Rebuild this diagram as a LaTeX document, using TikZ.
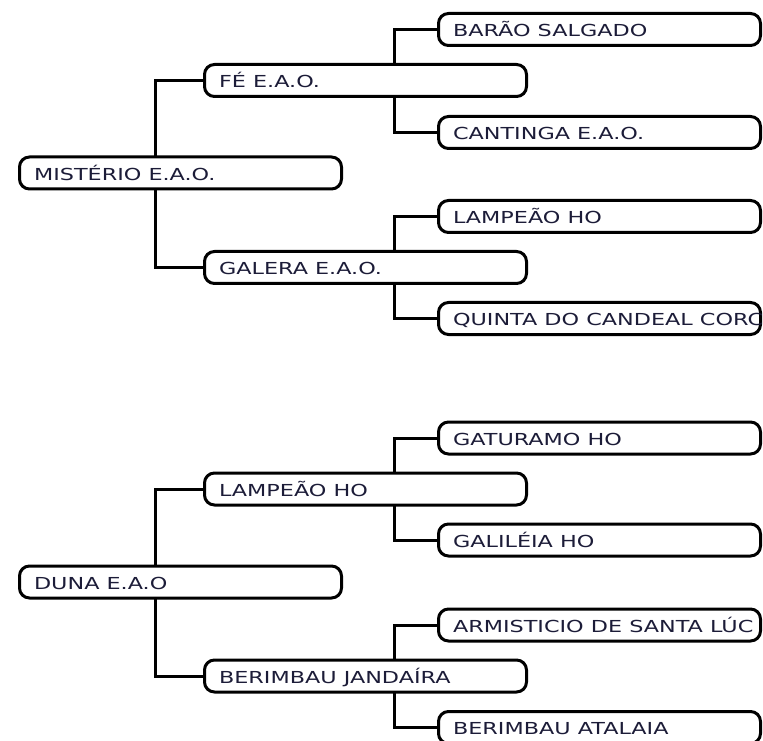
\documentclass[tikz,border=0pt]{standalone}
\usepackage{fontspec}
\newfontfamily\boxfont[FakeStretch=1.35]{DejaVu Sans}
\usetikzlibrary{backgrounds}
\definecolor{boxtext}{RGB}{28,28,56}

\tikzset{
	tbox/.style={draw,line width=2.25pt,fill=white,rounded corners=7.5pt,inner sep=0,outer sep=0,minimum width=241.5pt,minimum height=24pt,
		label={[anchor=base west,inner sep=0,outer sep=0,xshift=10.9pt,yshift=-5.6pt,text=boxtext,font=\boxfont\fontsize{12.4pt}{14pt}\selectfont]west:#1}},
	link/.style={line width=2.25pt}
}

\begin{document}
\begin{tikzpicture}[x=0.75pt,y=-0.75pt]
	\clip (0,0) rectangle (763,741);
	% first tree
	\node[tbox=MISTÉRIO E.A.O.] (1) at (180.5,173) {};
	\node[tbox=FÉ E.A.O.] (2) at (365.5,80.5) {};
	\node[tbox=GALERA E.A.O.] (3) at (365.5,267.5) {};
	\node[tbox=BARÃO SALGADO] (4) at (599.5,29.5) {};
	\node[tbox=CANTINGA E.A.O.] (5) at (599.5,132.5) {};
	\node[tbox=LAMPEÃO HO] (6) at (599.5,216.5) {};
	\node[tbox=QUINTA DO CANDEAL CORC] (7) at (599.5,318.5) {};
	\coordinate (1a) at (155,173);
	\coordinate (2a) at (394,80.5);
	\coordinate (3a) at (394,267.5);
	% second tree
	\node[tbox=DUNA E.A.O] (11) at (180.5,582) {};
	\node[tbox=LAMPEÃO HO] (12) at (365.5,489) {};
	\node[tbox=BERIMBAU JANDAÍRA] (13) at (365.5,676) {};
	\node[tbox=GATURAMO HO] (14) at (599.5,438) {};
	\node[tbox=GALILÉIA HO] (15) at (599.5,540) {};
	\node[tbox=ARMISTICIO DE SANTA LÚC] (16) at (599.5,625) {};
	\node[tbox=BERIMBAU ATALAIA] (17) at (599.5,727.5) {};
	\coordinate (11a) at (155,582);
	\coordinate (12a) at (394,489);
	\coordinate (13a) at (394,676);
	\begin{scope}[on background layer]
		\draw[link] (2.west) -| (1a) |- (3.west);
		\draw[link] (4.west) -| (2a) |- (5.west);
		\draw[link] (6.west) -| (3a) |- (7.west);
		\draw[link] (12.west) -| (11a) |- (13.west);
		\draw[link] (14.west) -| (12a) |- (15.west);
		\draw[link] (16.west) -| (13a) |- (17.west);
	\end{scope}
\end{tikzpicture}
\end{document}
